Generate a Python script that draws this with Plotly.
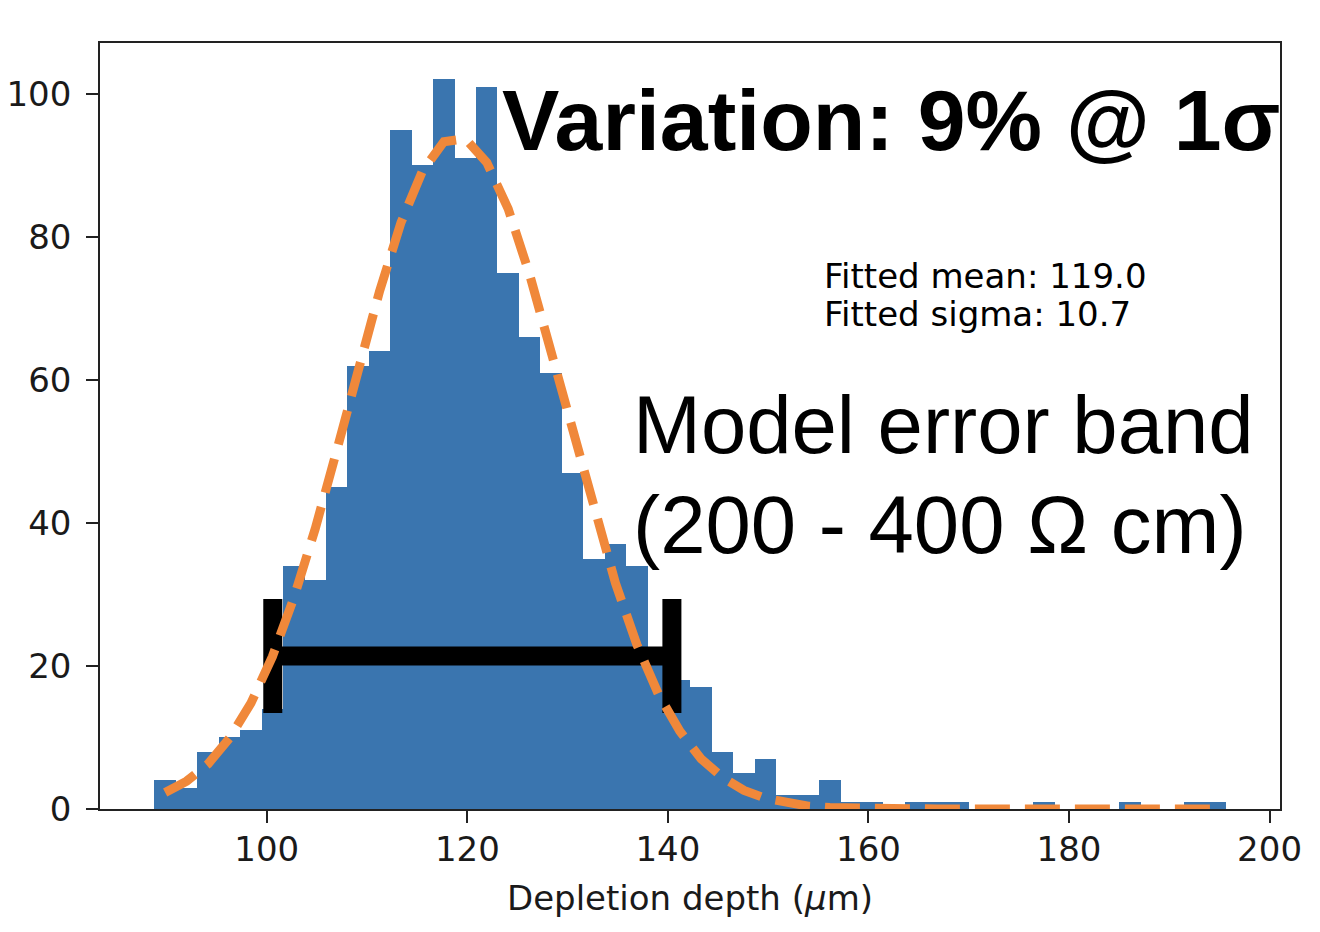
import numpy as np
import plotly.graph_objects as go

# ---- data ----
bin_start = 88.8
bin_width = 2.138
counts = [4, 3, 8, 10, 11, 14, 34, 32, 45, 62,
          64, 95, 90, 102, 91, 101, 75, 66, 61, 47,
          35, 37, 34, 22, 18, 17, 8, 5, 7, 2,
          2, 4, 1, 1, 0, 1, 1, 1, 0, 0,
          0, 1, 0, 0, 0, 1, 0, 0, 1, 1]
fit_curve = [2.3, 3.9, 6.3, 9.9, 14.8, 21.3, 29.5, 39.2, 50.1, 61.4,
             72.4, 82.0, 89.2, 93.3, 93.7, 90.4, 83.9, 74.7, 64.0, 52.6,
             41.6, 31.6, 23.0, 16.1, 10.9, 7.0, 4.4, 2.6, 1.5, 0.8,
             0.4, 0.2, 0.1, 0.05, 0.02, 0.01, 0.0, 0.0, 0.0, 0.0,
             0.0, 0.0, 0.0, 0.0, 0.0, 0.0, 0.0, 0.0, 0.0, 0.0]
band_low = 100.6
band_high = 140.4
band_level = 21.4
x_ticks = [100, 120, 140, 160, 180, 200]
y_ticks = [0, 20, 40, 60, 80, 100]
x_range = [83.37, 201.04]
y_range = [0, 107.1]

centers = bin_start + bin_width * (np.arange(len(counts)) + 0.5)
band_mid = (band_low + band_high) / 2

BLUE = "#3A75AF"
ORANGE = "#F0883A"
TXT = "#1a1a1a"
AX = "#222222"
SMALL = "DejaVu Sans"
BIG = "Liberation Sans, Arial, Helvetica"

fig = go.Figure()
fig.add_trace(go.Bar(x=centers, y=counts, width=bin_width,
                     marker=dict(color=BLUE, line=dict(width=0)),
                     hoverinfo="x+y"))
fig.add_trace(go.Scatter(
    x=[band_mid], y=[band_level], mode="markers",
    marker=dict(size=1, color="black"),
    error_x=dict(type="data", symmetric=False,
                 array=[band_high - band_mid], arrayminus=[band_mid - band_low],
                 color="black", thickness=19, width=57)))
fig.add_trace(go.Scatter(x=centers, y=fit_curve, mode="lines",
                         line=dict(color=ORANGE, width=9, dash="35px,15px")))

def ann(text, x, y, size, family, bold=False):
    fig.add_annotation(text=("<b>%s</b>" % text) if bold else text,
                       xref="paper", yref="paper", x=x, y=y,
                       xanchor="left", yanchor="middle", showarrow=False,
                       font=dict(size=size, family=family, color="black"))

ann("Variation: 9% @ 1σ", 0.339, 0.899, 86, BIG, bold=True)
ann("Fitted mean: 119.0", 0.6119, 0.6958, 34, SMALL)
ann("Fitted sigma: 10.7", 0.6119, 0.6458, 34, SMALL)
ann("Model error band", 0.450, 0.502, 81.5, BIG)
ann("(200 - 400 Ω cm)", 0.450, 0.3712, 81.5, BIG)

axis_common = dict(showgrid=False, zeroline=False, showline=True, mirror=True,
                   linecolor=AX, linewidth=1.6, ticks="outside", ticklen=12,
                   tickwidth=2, tickcolor=AX, automargin=False,
                   tickfont=dict(family=SMALL, size=34, color=TXT))
fig.update_layout(
    width=1320, height=932,
    margin=dict(l=100, r=40, t=43, b=123),
    paper_bgcolor="white", plot_bgcolor="white",
    showlegend=False, bargap=0,
    xaxis=dict(range=x_range, tickvals=x_ticks, ticklabelstandoff=-3,
               title=dict(text="Depletion depth (<i>μ</i>m)", standoff=19,
                          font=dict(family=SMALL, size=34, color=TXT)),
               **axis_common),
    yaxis=dict(range=y_range, tickvals=y_ticks, ticklabelstandoff=8,
               **axis_common),
)
fig.write_html("out.html", config={"displayModeBar": False},
               post_script="document.body.style.margin='0px';")
